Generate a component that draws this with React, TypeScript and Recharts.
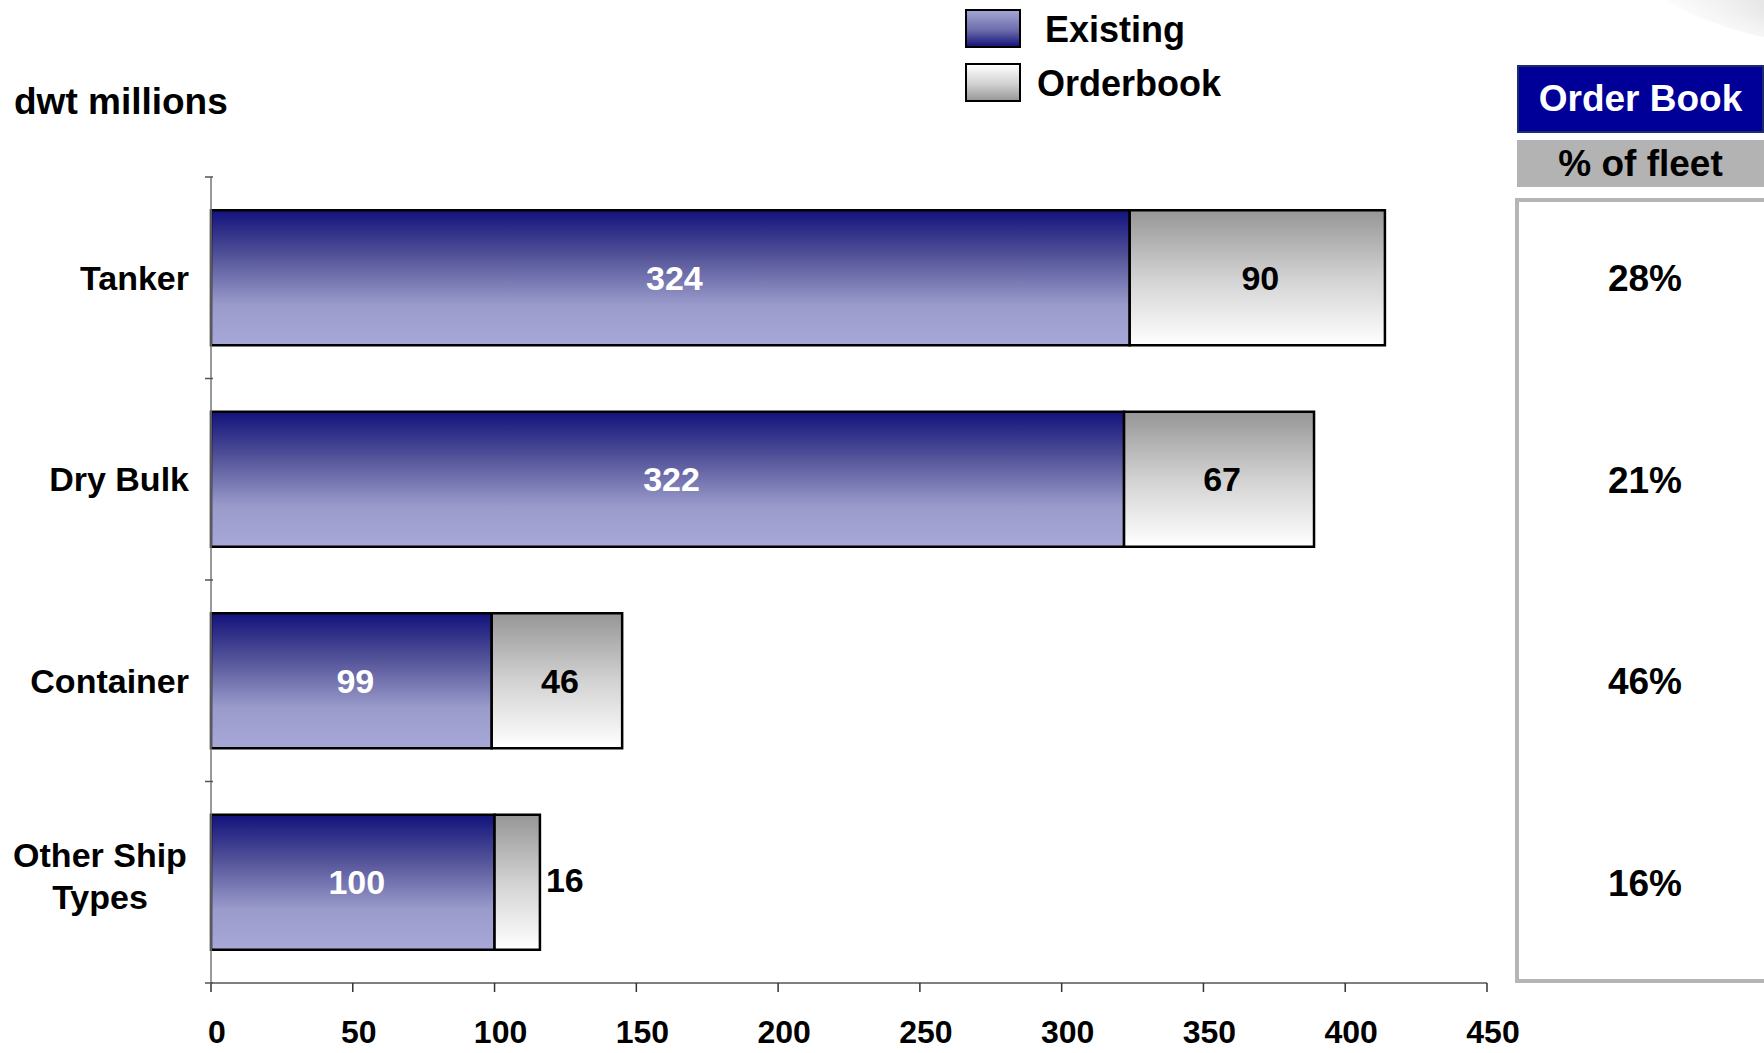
import React from "react";
import { BarChart, Bar, XAxis, YAxis, LabelList } from "recharts";

const categories = ["Tanker", "Dry Bulk", "Container", "Other Ship\nTypes"];
const existing = [324, 322, 99, 100];
const orderbook = [90, 67, 46, 16];
const fleetPct = ["28%", "21%", "46%", "16%"];
const xTicks = [0, 50, 100, 150, 200, 250, 300, 350, 400, 450];

const data = categories.map((name, i) => ({
  name,
  existing: existing[i],
  orderbook: orderbook[i],
}));

const FONT = '"Liberation Sans", Arial, Helvetica, sans-serif';

const CategoryTick = (props: any) => {
  const { x, y, payload, index } = props;
  const half = payload.offset || 0;
  const lines = String(payload.value).split("\n");
  return (
    <g>
      <line x1={x + 2} x2={x + 10} y1={y - half} y2={y - half} stroke="#555" strokeWidth={1.5} />
      {index === categories.length - 1 && (
        <line x1={x + 2} x2={x + 10} y1={y + half} y2={y + half} stroke="#555" strokeWidth={1.5} />
      )}
      {lines.length === 1 ? (
        <text x={x - 14} y={y} textAnchor="end" dominantBaseline="central" fontFamily={FONT} fontWeight="bold" fontSize={34} fill="#000">
          {lines[0]}
        </text>
      ) : (
        <text textAnchor="middle" fontFamily={FONT} fontWeight="bold" fontSize={34} fill="#000">
          {lines.map((l, i) => (
            <tspan key={i} x={x - 103} y={y - 6 + (i - (lines.length - 1) / 2) * 42} dominantBaseline="central">
              {l}
            </tspan>
          ))}
        </text>
      )}
    </g>
  );
};

const PctTick = (props: any) => {
  const { x, y, payload } = props;
  return (
    <text x={x + 150} y={y + 1} textAnchor="middle" dominantBaseline="central" fontFamily={FONT} fontWeight="bold" fontSize={37} fill="#000">
      {fleetPct[payload.index]}
    </text>
  );
};

const XTick = (props: any) => {
  const { x, y, payload } = props;
  return (
    <text x={x + 6} y={y + 2} dy="0.71em" textAnchor="middle" fontFamily={FONT} fontWeight="bold" fontSize={32} fill="#000">
      {payload.value}
    </text>
  );
};

const ExistingLabel = (props: any) => {
  const { x, y, width, height, value } = props;
  return (
    <text x={x + width / 2 + 4} y={y + height / 2} textAnchor="middle" dominantBaseline="central" fontFamily={FONT} fontWeight="bold" fontSize={34} fill="#fff">
      {value}
    </text>
  );
};

const OrderLabel = (props: any) => {
  const { x, y, width, height, value } = props;
  const outside = width < 70;
  return (
    <text
      x={outside ? x + width + 6 : x + width / 2 + 3}
      y={y + height / 2 - (outside ? 2 : 0)}
      textAnchor={outside ? "start" : "middle"}
      dominantBaseline="central"
      fontFamily={FONT}
      fontWeight="bold"
      fontSize={34}
      fill="#000"
    >
      {value}
    </text>
  );
};

export default function App() {
  return (
    <div style={{ position: "absolute", left: 0, top: 0, width: 1764, height: 1053, background: "#fff", overflow: "hidden", fontFamily: FONT }}>
      {/* faint decorative swoosh, top right */}
      <div style={{ position: "absolute", left: 1630, top: -55, width: 260, height: 90, borderRadius: "50%", background: "radial-gradient(ellipse at 70% 60%, #dddddd 0%, rgba(232,232,232,0.55) 40%, rgba(255,255,255,0) 70%)", transform: "rotate(14deg)" }} />

      <div style={{ position: "absolute", left: 14, top: 81, fontSize: 37, fontWeight: "bold" }}>dwt millions</div>

      {/* legend */}
      <div style={{ position: "absolute", left: 965, top: 9, width: 52, height: 35, border: "2px solid #000", background: "linear-gradient(#a3a4d4, #6c6cab 55%, #16167d)" }} />
      <div style={{ position: "absolute", left: 1045, top: 8, fontSize: 36, fontWeight: "bold", lineHeight: "44px" }}>Existing</div>
      <div style={{ position: "absolute", left: 965, top: 63, width: 52, height: 35, border: "2px solid #000", background: "linear-gradient(#ffffff, #d0d0d0 55%, #999999)" }} />
      <div style={{ position: "absolute", left: 1037, top: 62, fontSize: 36, fontWeight: "bold", lineHeight: "44px" }}>Orderbook</div>

      {/* order book panel */}
      <div style={{ position: "absolute", left: 1517, top: 65, width: 247, height: 68, background: "#000099", boxShadow: "inset 0 0 0 2px #1c2c6c", color: "#fff", fontSize: 37, fontWeight: "bold", display: "flex", alignItems: "center", justifyContent: "center" }}>
        Order Book
      </div>
      <div style={{ position: "absolute", left: 1517, top: 140, width: 247, height: 47, background: "#b3b3b3", color: "#000", fontSize: 37, fontWeight: "bold", display: "flex", alignItems: "center", justifyContent: "center" }}>
        % of fleet
      </div>
      <div style={{ position: "absolute", left: 1515, top: 198, width: 260, height: 777, border: "4px solid #b5b5b5", boxSizing: "content-box" }} />

      <div style={{ position: "absolute", left: 0, top: 0 }}>
        <BarChart
          width={1764}
          height={1053}
          data={data}
          layout="vertical"
          margin={{ top: 177, right: 0, left: 0, bottom: 0 }}
          barCategoryGap="16.5%"
        >
          <defs>
            <linearGradient id="gExisting" x1="0" y1="0" x2="0" y2="1">
              <stop offset="0%" stopColor="#12127c" />
              <stop offset="35%" stopColor="#55559a" />
              <stop offset="70%" stopColor="#9a9bcb" />
              <stop offset="100%" stopColor="#a7a8d8" />
            </linearGradient>
            <linearGradient id="gOrder" x1="0" y1="0" x2="0" y2="1">
              <stop offset="0%" stopColor="#969696" />
              <stop offset="50%" stopColor="#d2d2d2" />
              <stop offset="100%" stopColor="#ffffff" />
            </linearGradient>
          </defs>
          <XAxis
            type="number"
            domain={[0, 450]}
            ticks={xTicks}
            height={70}
            axisLine={{ stroke: "#555", strokeWidth: 1.5 }}
            tickLine={{ stroke: "#333", strokeWidth: 1.5 }}
            tickSize={9}
            tickMargin={26}
            tick={<XTick />}
          />
          <YAxis
            yAxisId="left"
            type="category"
            dataKey="name"
            width={211}
            axisLine={{ stroke: "#777", strokeWidth: 1.5 }}
            tickLine={false}
            tick={<CategoryTick />}
          />
          <YAxis
            yAxisId="right"
            orientation="right"
            type="category"
            dataKey="name"
            width={277}
            axisLine={false}
            tickLine={false}
            tick={<PctTick />}
          />
          <Bar yAxisId="left" dataKey="existing" stackId="a" fill="url(#gExisting)" stroke="#000" strokeWidth={2.5} isAnimationActive={false}>
            <LabelList dataKey="existing" content={<ExistingLabel />} />
          </Bar>
          <Bar yAxisId="left" dataKey="orderbook" stackId="a" fill="url(#gOrder)" stroke="#000" strokeWidth={2.5} isAnimationActive={false}>
            <LabelList dataKey="orderbook" content={<OrderLabel />} />
          </Bar>
        </BarChart>
      </div>
    </div>
  );
}
